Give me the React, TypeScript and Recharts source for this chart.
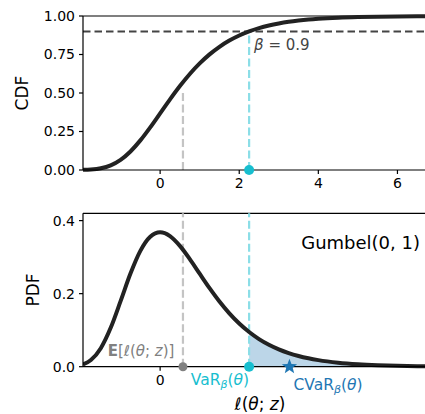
import {
  ComposedChart,
  Line,
  Area,
  XAxis,
  YAxis,
  ReferenceLine,
  ReferenceDot,
} from 'recharts';

// values (Gumbel(0, 1))
const xs = [-1.95, -1.75, -1.5, -1.25, -1, -0.75, -0.5, -0.25, 0, 0.25, 0.5, 0.75, 1, 1.25, 1.5, 1.75, 2, 2.25, 2.5, 2.75, 3, 3.25, 3.5, 3.75, 4, 4.5, 5, 5.5, 6, 6.5, 7];
const cdfValues = [0.0009, 0.0032, 0.0113, 0.0305, 0.066, 0.1204, 0.1923, 0.2769, 0.3679, 0.4589, 0.5452, 0.6235, 0.6922, 0.7509, 0.8, 0.8405, 0.8734, 0.9, 0.9212, 0.9381, 0.9514, 0.962, 0.9702, 0.9768, 0.9819, 0.989, 0.9933, 0.9959, 0.9975, 0.9985, 0.9991];
const pdfValues = [0.0062, 0.0183, 0.0507, 0.1064, 0.1794, 0.2549, 0.3171, 0.3556, 0.3679, 0.3574, 0.3307, 0.2945, 0.2546, 0.2151, 0.1785, 0.1461, 0.1182, 0.0949, 0.0756, 0.06, 0.0474, 0.0373, 0.0293, 0.023, 0.018, 0.011, 0.0067, 0.0041, 0.0025, 0.0015, 0.0009];

const cdfTicks = [0, 0.25, 0.5, 0.75, 1];
const pdfTicks = [0, 0.2, 0.4];
const topXTicks = [0, 2, 4, 6];
const bottomXTicks = [0];

const meanX = 0.577;
const varX = 2.25;
const cvarX = 3.27;
const beta = 0.9;

const X_DOMAIN = [-1.95, 7];
const FONT = '"DejaVu Sans", sans-serif';
const CURVE = '#222222';
const CYAN = '#17becf';
const CYAN_LIGHT = '#8bdee7';
const GREY_LIGHT = '#c4c4c4';
const BLUE = '#1f77b4';

const cdfData = xs.map((x, i) => ({ x, cdf: cdfValues[i] }));
const pdfData = xs.map((x, i) => ({
  x,
  pdf: pdfValues[i],
  tail: x >= varX ? pdfValues[i] : null,
}));

const tickStyle = { fontSize: 14, fill: '#000', fontFamily: FONT };

const Star = (props: any) => {
  const { cx, cy } = props;
  const R = 8;
  const r = 3.4;
  const pts: string[] = [];
  for (let k = 0; k < 10; k++) {
    const a = -Math.PI / 2 + (k * Math.PI) / 5;
    const rad = k % 2 === 0 ? R : r;
    pts.push(`${cx + rad * Math.cos(a)},${cy + rad * Math.sin(a)}`);
  }
  return <polygon points={pts.join(' ')} fill={BLUE} />;
};

// label placed relative to a reference dot
const textAt = (dx: number, dy: number, node: any, anchor = 'start', color = '#000', size = 14) =>
  (props: any) => {
    const { x, y } = props.viewBox;
    return (
      <text x={x + dx} y={y + dy} textAnchor={anchor} fill={color} fontSize={size} fontFamily={FONT}>
        {node}
      </text>
    );
  };

const yLabel = (text: string, x: number) => (props: any) => {
  const vb = props.viewBox;
  const cy = vb.y + vb.height / 2;
  return (
    <text x={x} y={cy} transform={`rotate(-90 ${x} ${cy})`} textAnchor="middle" dominantBaseline="central"
      fontSize={17} fontFamily={FONT} fill="#000">
      {text}
    </text>
  );
};

const xLabel = (props: any) => {
  const vb = props.viewBox;
  const cx = vb.x + vb.width / 2;
  return (
    <text x={cx} y={vb.y + vb.height - 4} textAnchor="middle" fontSize={17} fontFamily={FONT} fill="#000">
      <tspan fontStyle="italic">ℓ</tspan>(<tspan fontStyle="italic">θ</tspan>; <tspan fontStyle="italic">z</tspan>)
    </text>
  );
};

export default function App() {
  return (
    <div style={{ position: 'absolute', left: 0, top: 0, width: 425, height: 414, overflow: 'hidden', background: '#fff' }}>
      <ComposedChart width={450} height={200} data={cdfData} margin={{ top: 16, right: 13, left: 0, bottom: 0 }}>
        <XAxis
          dataKey="x"
          type="number"
          domain={X_DOMAIN}
          ticks={topXTicks}
          allowDataOverflow
          height={30}
          tickSize={4}
          tickMargin={4}
          tick={tickStyle}
          stroke="#000"
          strokeWidth={1.2}
        />
        <YAxis
          type="number"
          domain={[0, 1]}
          ticks={cdfTicks}
          width={83}
          tickSize={4}
          tickMargin={4}
          tick={tickStyle}
          stroke="#000"
          strokeWidth={1.2}
          tickFormatter={(v: number) => v.toFixed(2)}
          label={{ content: yLabel('CDF', 22) }}
        />
        <ReferenceLine y={1} stroke="#000" strokeWidth={1.2} />
        <ReferenceLine segment={[{ x: meanX, y: 0 }, { x: meanX, y: 0.5 }]} stroke={GREY_LIGHT} strokeWidth={2.2} strokeDasharray="8 3.5" />
        <ReferenceLine segment={[{ x: varX, y: 0 }, { x: varX, y: beta }]} stroke={CYAN_LIGHT} strokeWidth={2.2} strokeDasharray="8 3.5" />
        <ReferenceLine y={beta} stroke="#444" strokeWidth={2} strokeDasharray="7.5 4" />
        <Line dataKey="cdf" type="monotone" stroke={CURVE} strokeWidth={4} dot={false} isAnimationActive={false} />
        <ReferenceDot
          x={varX}
          y={beta}
          r={0}
          label={{ content: textAt(5, 19, <><tspan fontStyle="italic">β</tspan> = 0.9</>, 'start', '#444', 15) }}
        />
        <ReferenceDot x={varX} y={0} r={5} fill={CYAN} stroke="none" ifOverflow="visible" />
      </ComposedChart>

      <div style={{ position: 'absolute', left: 0, top: 200 }}>
        <ComposedChart width={450} height={214} data={pdfData} margin={{ top: 13.3, right: 13, left: 0, bottom: 0 }}>
          <XAxis
            dataKey="x"
            type="number"
            domain={X_DOMAIN}
            ticks={bottomXTicks}
            allowDataOverflow
            height={47.3}
            tickSize={4}
            tickMargin={4}
            tick={tickStyle}
            stroke="#000"
            strokeWidth={1.2}
            label={{ content: xLabel }}
          />
          <YAxis
            type="number"
            domain={[0, 0.42]}
            ticks={pdfTicks}
            width={83}
            tickSize={4}
            tickMargin={4}
            tick={tickStyle}
            stroke="#000"
            strokeWidth={1.2}
            tickFormatter={(v: number) => v.toFixed(1)}
            label={{ content: yLabel('PDF', 33) }}
          />
          <ReferenceLine y={0.42} stroke="#000" strokeWidth={1.2} />
          <Area dataKey="tail" type="monotone" fill="#bcd6e8" fillOpacity={1} stroke="none" isAnimationActive={false} />
          <ReferenceLine x={meanX} stroke={GREY_LIGHT} strokeWidth={2.2} strokeDasharray="8 3.5" />
          <ReferenceLine x={varX} stroke={CYAN_LIGHT} strokeWidth={2.2} strokeDasharray="8 3.5" />
          <Line dataKey="pdf" type="monotone" stroke={CURVE} strokeWidth={4} dot={false} isAnimationActive={false} />
          <ReferenceDot
            x={meanX}
            y={0}
            r={4.5}
            fill="#808080"
            stroke="none"
            ifOverflow="visible"
            label={{
              content: textAt(-4, -6, <>
                <tspan fontWeight="bold">E</tspan>[<tspan fontStyle="italic">ℓ</tspan>(<tspan fontStyle="italic">θ</tspan>; <tspan fontStyle="italic">z</tspan>)]
              </>, 'end', '#808080', 15),
            }}
          />
          <ReferenceDot
            x={varX}
            y={0}
            r={5}
            fill={CYAN}
            stroke="none"
            ifOverflow="visible"
            label={{
              content: textAt(5, 23, <>
                VaR<tspan fontSize={11} dy={3} fontStyle="italic">β</tspan><tspan dy={-3}>(</tspan><tspan fontStyle="italic">θ</tspan>)
              </>, 'end', CYAN, 15.5),
            }}
          />
          <ReferenceDot
            x={cvarX}
            y={0}
            r={0}
            ifOverflow="visible"
            shape={Star}
            label={{
              content: textAt(4, 23, <>
                CVaR<tspan fontSize={11} dy={3} fontStyle="italic">β</tspan><tspan dy={-3}>(</tspan><tspan fontStyle="italic">θ</tspan>)
              </>, 'start', BLUE, 15.5),
            }}
          />
          <ReferenceDot
            x={6.57}
            y={0.34}
            r={0}
            label={{ content: textAt(0, 6, 'Gumbel(0, 1)', 'end', '#000', 18) }}
          />
        </ComposedChart>
      </div>
    </div>
  );
}
